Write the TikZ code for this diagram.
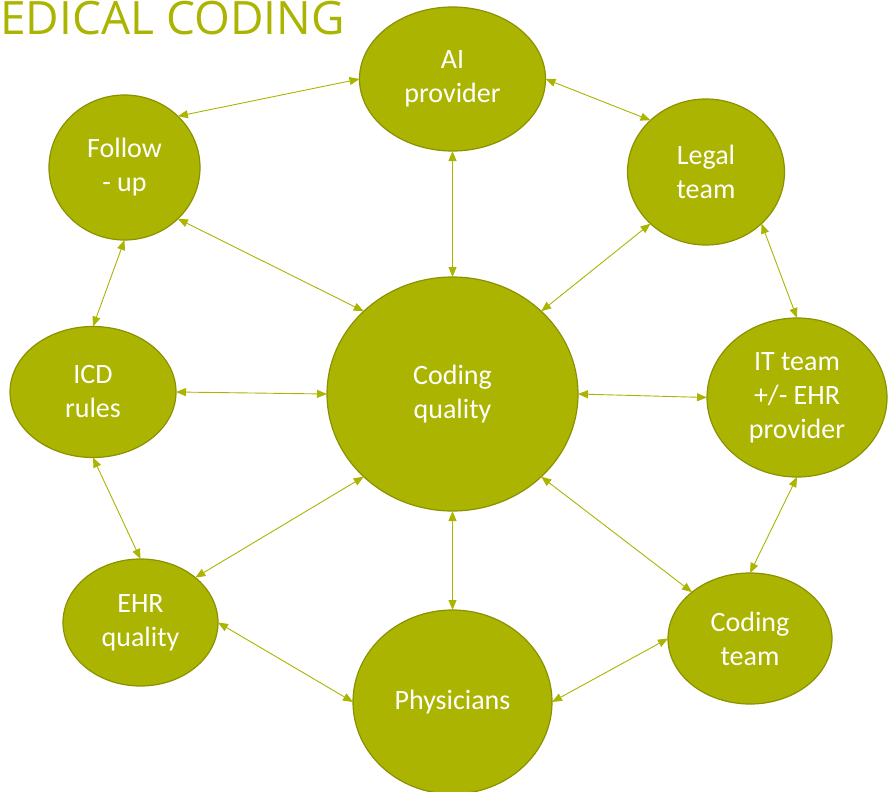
\documentclass[tikz,border=0pt]{standalone}
\usepackage{fontspec}
\setmainfont{Carlito}
\newfontfamily\headingfont{Open Sans}
\usetikzlibrary{calc,shapes.geometric,arrows.meta}

\definecolor{olive}{RGB}{171,180,0}
\definecolor{olivedark}{RGB}{138,146,0}

\begin{document}
\begin{tikzpicture}[
    x=1pt, y=-1pt,
    topic/.style={ellipse, draw=olivedark, line width=1.2pt, fill=olive, inner sep=0pt, outer sep=0pt,
        text=white, align=center, font=\fontsize{28}{34}\selectfont},
    link/.style={{Triangle[length=10pt,width=8pt]}-{Triangle[length=10pt,width=8pt]}, line width=0.9pt, olive},
    titletext/.style={font=\headingfont\fontsize{46}{55}\selectfont, text=olive, inner sep=0pt, anchor=base west},
]
\useasboundingbox (0,0) rectangle (889,792);

% Title
\node[titletext] (title) at (0,35) {EDICAL CODING};

% Hub
\node[topic, minimum width=251pt, minimum height=234pt] (coding-quality) at (452.5,394) {Coding\\quality};

% Surrounding topics
\node[topic, minimum width=186pt, minimum height=144pt] (ai-provider) at ($(coding-quality)+(0,-315)$) {AI\\provider};
\node[topic, minimum width=151pt, minimum height=145pt] (follow-up) at ($(coding-quality)+(-328,-226.5)$) {Follow\\- up};
\node[topic, minimum width=157pt, minimum height=146pt] (legal-team) at ($(coding-quality)+(253.5,-222)$) {Legal\\team};
\node[topic, minimum width=166pt, minimum height=131pt] (icd-rules) at ($(coding-quality)+(-359.5,-2)$) {ICD\\rules};
\node[topic, minimum width=180pt, minimum height=159pt] (it-team) at ($(coding-quality)+(344.5,3.5)$) {IT team\\+/- EHR\\provider};
\node[topic, minimum width=155pt, minimum height=127pt] (ehr-quality) at ($(coding-quality)+(-312,228.5)$) {EHR\\quality};
\node[topic, minimum width=199pt, minimum height=184pt] (physicians) at ($(coding-quality)+(0,308)$) {Physicians};
\node[topic, minimum width=164pt, minimum height=131pt] (coding-team) at ($(coding-quality)+(297.5,244.5)$) {Coding\\team};

% Links
\draw[link] (ai-provider.west) -- (follow-up.north east);
\draw[link] (ai-provider.east) -- (legal-team.north west);
\draw[link] (ai-provider.south) -- (coding-quality.north);
\draw[link] (follow-up.south) -- (icd-rules.north);
\draw[link] (follow-up.south east) -- (coding-quality.north west);
\draw[link] (legal-team.south west) -- (coding-quality.north east);
\draw[link] (legal-team.south east) -- (it-team.north);
\draw[link] (icd-rules.east) -- (coding-quality.west);
\draw[link] (coding-quality.east) -- (it-team.west);
\draw[link] (icd-rules.south) -- (ehr-quality.north);
\draw[link] (ehr-quality.north east) -- (coding-quality.south west);
\draw[link] (coding-quality.south) -- (physicians.north);
\draw[link] (coding-quality.south east) -- (coding-team.north west);
\draw[link] (it-team.south) -- (coding-team.north);
\draw[link] (ehr-quality.east) -- (physicians.west);
\draw[link] (physicians.east) -- (coding-team.west);

\end{tikzpicture}
\end{document}
